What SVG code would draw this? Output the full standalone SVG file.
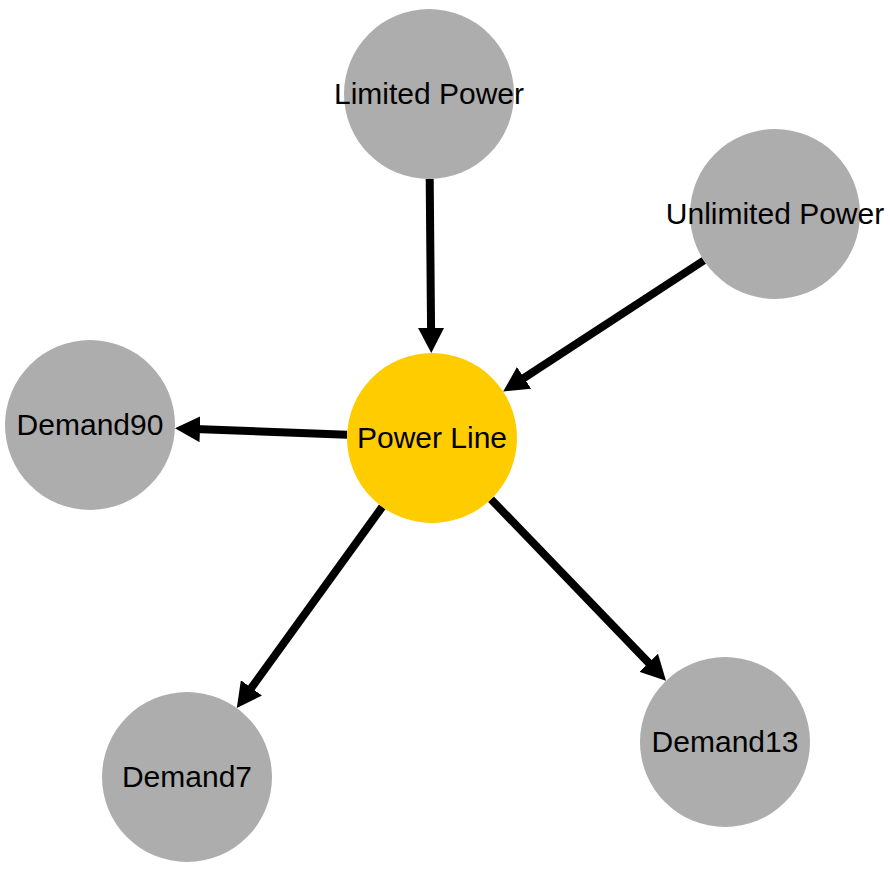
<svg xmlns="http://www.w3.org/2000/svg" width="890" height="874" viewBox="0 0 890 874">
<style>
.node circle{fill:#adadad;}
.node.main circle{fill:#ffcc00;}
.node text{font-family:"Liberation Sans",Arial,sans-serif;font-size:30px;fill:#000;text-anchor:middle;}
.edge{stroke:#000;stroke-width:8;fill:none;marker-end:url(#arrow);}
</style>
<defs>
<marker id="arrow" markerUnits="userSpaceOnUse" markerWidth="25" markerHeight="26" viewBox="0 0 25 26" refX="5" refY="13" orient="auto">
<path d="M0,0 L25,13 L0,26 z" fill="#000"/>
</marker>
</defs>
<rect width="890" height="874" fill="#fff"/>
<g id="connectors">
<line class="edge" x1="429.7" y1="179" x2="431.1" y2="333"/>
<line class="edge" x1="703.8" y1="260.5" x2="519.9" y2="380.6"/>
<line class="edge" x1="347.1" y1="434.8" x2="195" y2="429"/>
<line class="edge" x1="382.2" y1="506.9" x2="248.5" y2="691.9"/>
<line class="edge" x1="491" y1="499.2" x2="652.1" y2="666.4"/>
</g>
<g id="limited-power" class="node"><circle cx="429" cy="94" r="85"/><text x="429" y="104">Limited Power</text></g>
<g id="unlimited-power" class="node"><circle cx="775" cy="214" r="85"/><text x="775" y="224">Unlimited Power</text></g>
<g id="power-line" class="node main"><circle cx="432" cy="438" r="85"/><text x="432" y="448">Power Line</text></g>
<g id="demand90" class="node"><circle cx="90" cy="425" r="85"/><text x="90" y="435">Demand90</text></g>
<g id="demand7" class="node"><circle cx="187" cy="777" r="85"/><text x="187" y="787">Demand7</text></g>
<g id="demand13" class="node"><circle cx="725" cy="742" r="85"/><text x="725" y="752">Demand13</text></g>
</svg>
